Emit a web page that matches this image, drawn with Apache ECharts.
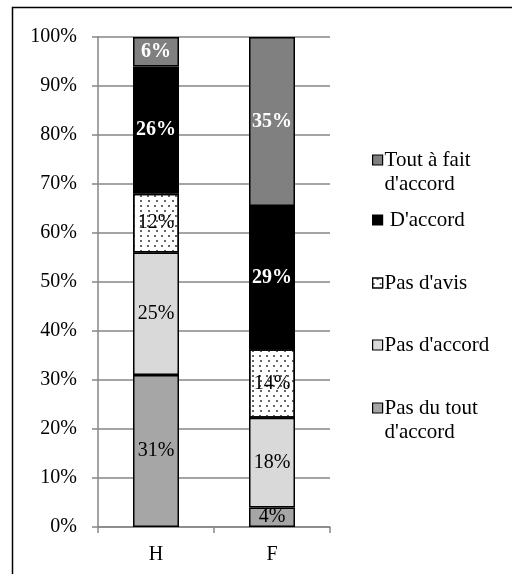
<!DOCTYPE html>
<html><head><meta charset="utf-8">
<script src="https://cdn.jsdelivr.net/npm/echarts@6/dist/echarts.min.js"></script>
<style>html,body{margin:0;padding:0;background:#fff}#c{width:512px;height:574px}</style>
</head><body><div id="c"></div>
<script>
const categories = ['H', 'F'];
const pasDuTout = [31, 4];
const pasAccord = [25, 18.3];
const pasAvis = [12, 14];
const dAccord = [26, 29.2];
const toutAFait = [6, 34.5];
const yTicks = [0, 10, 20, 30, 40, 50, 60, 70, 80, 90, 100];

const FONT = 'Liberation Serif';
const chart = echarts.init(document.getElementById('c'), null, {renderer: 'canvas'});

function lbl(color, bold) {
  return {show: true, position: 'inside', color: color, fontFamily: FONT, fontSize: 20,
    fontWeight: bold ? 'bold' : 'normal', formatter: p => Math.round(p.value) + '%'};
}
const border = {borderColor: '#000', borderWidth: 1.5};
const series = [
  {name: "Pas du tout d'accord", data: pasDuTout, itemStyle: Object.assign({color: '#a6a6a6'}, border), label: lbl('#000', false)},
  {name: "Pas d'accord", data: pasAccord, itemStyle: Object.assign({color: '#d9d9d9'}, border), label: lbl('#000', false)},
  {name: "Pas d'avis", data: pasAvis, itemStyle: Object.assign({color: '#ffffff',
    decal: {symbol: 'circle', symbolSize: 1, color: '#333', backgroundColor: null,
      dashArrayX: [[1.5, 5], [0, 3.25, 1.5, 1.75]], dashArrayY: [1.5, 2.5], rotation: 0}}, border), label: lbl('#000', false)},
  {name: "D'accord", data: dAccord, itemStyle: Object.assign({color: '#000000'}, border), label: lbl('#fff', true)},
  {name: "Tout à fait d'accord", data: toutAFait, itemStyle: Object.assign({color: '#808080'}, border), label: lbl('#fff', true)}
].map(s => Object.assign({type: 'bar', stack: 'all', barWidth: 46}, s));

const LH = 24;
const legendItems = [
  {name: "Tout à fait d'accord", text: " \nTout à fait\nd'accord", cy: 160, two: true},
  {name: "D'accord", text: " D'accord", cy: 220, two: false},
  {name: "Pas d'avis", text: "Pas d'avis", cy: 283, two: false},
  {name: "Pas d'accord", text: "Pas d'accord", cy: 345, two: false},
  {name: "Pas du tout d'accord", text: " \nPas du tout\nd'accord", cy: 408, two: true}
];
const legends = legendItems.map(it => ({
  data: [it.name], left: 372, top: it.two ? it.cy - 1.5 * LH : it.cy - LH / 2, padding: 0,
  itemWidth: 10, itemHeight: 10, icon: 'rect', itemGap: 0, selectedMode: false,
  formatter: () => it.text,
  itemStyle: {borderColor: '#000', borderWidth: 1.2},
  textStyle: {fontFamily: FONT, fontSize: 21, color: '#000', lineHeight: LH, padding: [0, 0, 0, -3]}
}));

chart.setOption({
  animation: false,
  backgroundColor: '#fff',
  graphic: [{type: 'rect', shape: {x: 12.5, y: 7.5, width: 600, height: 700}, style: {fill: null, stroke: '#000', lineWidth: 1.5}, silent: true}],
  grid: {left: 98, right: 182, top: 37, bottom: 47},
  legend: legends,
  xAxis: {type: 'category', data: categories,
    axisLine: {lineStyle: {color: '#868686', width: 1.5}},
    axisTick: {show: true, length: 6, lineStyle: {color: '#868686', width: 1.5}},
    axisLabel: {fontFamily: FONT, fontSize: 20, color: '#000', margin: 18}},
  yAxis: {type: 'value', min: 0, max: 100, interval: 10,
    axisLine: {show: true, lineStyle: {color: '#868686', width: 1.5}},
    axisTick: {show: true, length: 6, lineStyle: {color: '#868686', width: 1.5}},
    splitLine: {lineStyle: {color: '#868686', width: 1.5}},
    axisLabel: {fontFamily: FONT, fontSize: 20, color: '#000', margin: 21,
      formatter: v => yTicks.includes(v) ? v + '%' : ''}},
  series: series
});
</script></body></html>
